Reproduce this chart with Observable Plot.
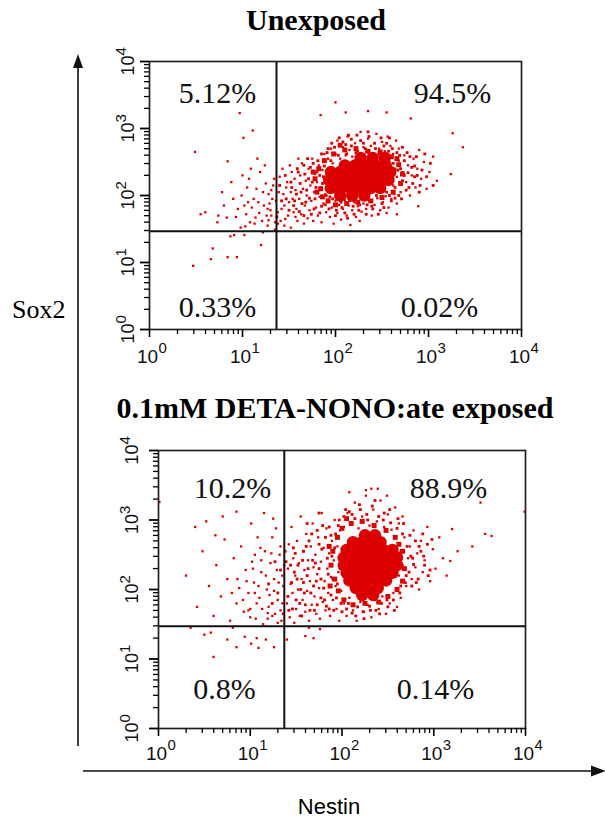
<!DOCTYPE html>
<html>
<head>
<meta charset="utf-8">
<script src="https://cdn.jsdelivr.net/npm/d3@7"></script>
<script src="https://cdn.jsdelivr.net/npm/@observablehq/plot@0.6"></script>
<style>
  html, body { margin: 0; padding: 0; background: #fff; }
  #wrap { position: relative; width: 605px; height: 828px; overflow: hidden; background: #fff; }
  .panel { position: absolute; left: 0; }
  #overlay { position: absolute; left: 0; top: 0; pointer-events: none; }
</style>
</head>
<body>
<div id="wrap">
  <div id="p1" class="panel" style="top:0px"></div>
  <div id="p2" class="panel" style="top:380px"></div>
  <svg id="overlay" width="605" height="828" xmlns="http://www.w3.org/2000/svg">
    <text x="316" y="30" text-anchor="middle" font-family="Liberation Serif, Times New Roman, serif" font-weight="bold" font-size="30">Unexposed</text>
    <text x="335" y="418" text-anchor="middle" font-family="Liberation Serif, Times New Roman, serif" font-weight="bold" font-size="30">0.1mM DETA-NONO:ate exposed</text>
    <text x="12" y="318" font-family="Liberation Serif, Times New Roman, serif" font-size="26">Sox2</text>
    <text x="329" y="814" text-anchor="middle" font-family="Liberation Sans, Arial, sans-serif" font-size="22">Nestin</text>
    <line x1="78" y1="746" x2="78" y2="64" stroke="#111" stroke-width="1.6"/>
    <polygon points="78,54 73,68 83,68" fill="#111"/>
    <line x1="83" y1="771" x2="594" y2="771" stroke="#111" stroke-width="1.6"/>
    <polygon points="606,771 591,765.5 591,776.5" fill="#111"/>
  </svg>
</div>
<script>
// ---------- axis ticks (fluorescence, log10 decades) ----------
const majorTicks = [1, 10, 100, 1000, 10000];
const tickBase = ["10", "10", "10", "10", "10"];
const tickExponents = ["0", "1", "2", "3", "4"];
const minorTicks = [2,3,4,5,6,7,8,9, 20,30,40,50,60,70,80,90,
  200,300,400,500,600,700,800,900, 2000,3000,4000,5000,6000,7000,8000,9000];

// ---------- quadrant gates (Nestin, Sox2) ----------
const unexposedGate = [23.2, 29.2];
const exposedGate = [23.5, 29.6];

// ---------- quadrant percentages [UL, UR, LL, LR] ----------
const unexposedPercents = ["5.12%", "94.5%", "0.33%", "0.02%"];
const exposedPercents = ["10.2%", "88.9%", "0.8%", "0.14%"];

// ---------- events, as [log10 Nestin, log10 Sox2] ----------
// solid centre of the population
const unexposedCore = [
  [2.27,2.56],[2.40,2.56],[2.53,2.56],
  [2.10,2.45],[2.21,2.45],[2.32,2.45],[2.43,2.45],[2.54,2.45],
  [1.95,2.35],[2.05,2.35],[2.16,2.35],[2.27,2.35],[2.38,2.35],[2.48,2.35],[2.59,2.35],
  [1.93,2.23],[2.03,2.23],[2.14,2.23],[2.25,2.23],[2.36,2.23],[2.46,2.23],[2.57,2.23],
  [1.95,2.11],[2.05,2.11],[2.16,2.11],[2.27,2.11],[2.38,2.11],[2.48,2.11],
  [2.05,2.00],[2.18,2.00],[2.31,2.00]
];
// crowded ring around the centre
const unexposedHalo = [
  [1.78,2.25],[1.82,2.40],[1.84,2.10],[1.88,2.52],[1.86,1.98],[1.92,1.92],[1.98,2.62],[2.00,1.86],
  [2.10,2.68],[2.12,1.88],[2.22,2.70],[2.24,1.90],[2.35,2.66],[2.38,1.92],[2.48,2.65],[2.50,1.97],
  [2.60,2.58],[2.62,2.05],[2.68,2.46],[2.70,2.18],[2.72,2.32],[1.80,2.05],[1.76,2.35],[2.05,2.75],[2.66,2.55]
];
// dense zone around the ring
const unexposedDense = [
  [1.58,2.02],[1.62,2.18],[1.64,1.88],[1.67,2.32],[1.69,2.08],[1.72,1.96],[1.73,2.42],[1.75,2.20],[1.77,1.80],[1.79,2.12],
  [1.81,2.52],[1.83,2.30],[1.85,1.84],[1.86,2.18],[1.88,2.44],[1.90,2.00],[1.91,2.64],[1.93,1.80],[1.95,2.52],[1.97,1.95],
  [1.99,2.72],[2.01,1.78],[2.03,2.60],[2.06,1.90],[2.08,2.80],[2.10,1.74],[2.12,2.62],[2.15,1.92],[2.17,2.74],[2.19,1.84],
  [2.22,2.64],[2.25,1.78],[2.27,2.82],[2.29,1.96],[2.32,2.70],[2.34,1.86],[2.37,2.60],[2.40,1.80],[2.42,2.78],[2.44,2.00],
  [2.47,2.62],[2.50,1.88],[2.52,2.74],[2.55,2.05],[2.57,2.66],[2.60,1.92],[2.62,2.48],[2.64,2.12],[2.66,2.64],[2.68,2.00],
  [2.70,2.40],[2.72,2.22],[2.74,2.52],[2.76,2.08],[2.78,2.34],[2.80,2.58],[2.83,2.18],[2.85,2.44],[2.88,2.30],[2.91,2.15],
  [1.70,2.55],[1.60,2.35],[1.66,1.70],[1.55,1.85],[1.52,2.20],[1.47,1.95],[2.35,2.95],[2.58,2.86],[2.14,2.90],[2.72,2.72],
  [1.42,1.92],[1.46,2.30],[1.50,1.78],[1.53,2.12],[1.56,1.92],[1.59,2.40],[1.61,1.76],[1.63,2.05],[1.66,2.45],[1.68,1.90],
  [1.71,2.25],[1.74,1.72],[1.76,2.48],[1.78,1.95],[1.80,2.35],[1.83,1.74],[1.85,2.62],[1.87,2.28],[1.89,1.86],[1.92,2.70],
  [1.94,1.98],[1.96,2.78],[2.00,1.70],[2.04,2.86],[2.07,1.82],[2.11,2.76],[2.13,1.66],[2.17,2.84],[2.20,1.72],[2.23,2.90],
  [2.26,1.86],[2.30,2.78],[2.33,1.72],[2.36,2.88],[2.39,1.84],[2.43,2.70],[2.46,1.72],[2.49,2.86],[2.52,1.82],[2.55,2.78],
  [2.58,2.00],[2.61,2.70],[2.64,1.96],[2.67,2.38],[2.69,2.60],[2.71,1.95],[2.74,2.30],[2.77,2.64],[2.79,2.12],[2.82,2.42],
  [2.85,2.28],[2.87,2.58],[2.90,2.05],[2.93,2.38],[2.96,2.62],[2.98,2.28],[3.02,2.48],[3.05,2.15],[1.37,1.68],[1.40,2.15]
];
// single events
const unexposedCells = [
  [0.47,0.95],[0.68,1.21],[0.66,1.05],[0.84,1.08],[0.94,1.08],[1.20,1.26],[0.87,1.39],[0.91,1.41],[1.02,1.41],[1.22,1.45],
  [0.55,1.72],[0.60,1.75],[0.74,1.70],[0.73,1.60],[0.83,1.67],[1.28,1.63],[1.03,1.54],
  [0.97,3.23],[1.11,2.97],[1.01,2.86],[0.49,2.65],[0.84,2.51],
  [0.93,1.68],[1.02,1.85],[1.08,1.60],[1.12,1.95],[1.18,1.74],[1.22,2.05],[1.27,1.55],[1.29,1.88],[1.05,2.12],[0.98,1.52],
  [0.95,1.80],[0.99,2.00],[1.04,1.72],[1.07,2.25],[1.10,1.82],[1.13,1.58],[1.15,2.10],[1.17,1.90],[1.19,2.35],[1.21,1.62],
  [1.23,1.85],[1.25,2.18],[1.26,1.70],[1.28,2.02],[1.30,1.78],[1.32,1.95],[1.34,2.25],[1.35,1.60],[1.24,2.45],[1.16,2.55],
  [1.09,2.40],[1.00,2.30],[0.90,1.95],[0.88,2.20],[0.80,1.85],[0.78,2.05],[1.14,1.67],[1.31,2.08],[1.27,1.80],[1.06,1.90],
  [1.31,1.70],[1.33,2.15],[1.36,1.92],[1.38,1.58],[1.40,2.28],[1.42,1.80],[1.44,2.02],[1.46,1.65],[1.48,2.20],[1.50,1.90],
  [1.52,1.52],[1.53,2.35],[1.55,1.75],[1.57,2.08],[1.59,1.62],[1.35,1.49],
  [1.38,1.75],[1.39,2.05],[1.41,1.62],[1.43,2.40],[1.45,1.85],[1.47,2.12],[1.49,1.70],[1.51,2.45],[1.54,1.95],[1.56,2.25],
  [1.58,1.80],[1.60,2.55],[1.45,1.55],[1.52,2.05],[1.57,1.68],
  [1.61,1.95],[1.62,2.30],[1.63,1.72],[1.64,2.48],[1.65,2.10],[1.66,1.58],[1.67,1.85],[1.68,2.22],[1.69,2.00],[1.70,1.66],
  [1.71,2.40],[1.72,1.78],[1.73,2.15],[1.74,1.92],[1.75,2.55],[1.76,1.62],[1.77,2.05],[1.78,2.32],[1.79,1.82],[1.80,2.20],
  [1.81,1.70],[1.82,2.45],[1.83,1.98],[1.84,2.12],[1.85,1.60],[1.86,2.38],[1.87,1.88],[1.88,2.62],[1.89,2.02],[1.90,1.75],
  [1.92,1.90],[1.94,1.68],[1.96,1.82],[1.98,1.58],[2.00,1.92],[2.02,1.74],[2.04,1.86],[2.06,1.64],[2.08,1.80],[2.10,1.93],
  [2.12,1.70],[2.14,1.85],[2.16,1.56],[2.18,1.78],[2.20,1.90],[2.22,1.68],[2.24,1.84],[2.26,1.62],[2.28,1.76],[2.30,1.88],
  [1.92,2.55],[1.95,2.70],[1.97,2.48],[2.00,2.62],[2.02,2.82],[2.05,2.55],[2.08,2.72],[2.11,2.60],[2.13,2.88],[2.15,2.68],
  [2.18,2.58],[2.21,2.78],[2.24,2.66],[2.27,2.95],[2.30,2.72],
  [2.33,2.65],[2.35,2.85],[2.38,2.74],[2.41,2.63],[2.44,2.92],[2.47,2.70],[2.50,2.80],[2.53,2.66],[2.56,2.88],[2.59,2.74],
  [2.62,2.62],[2.65,2.82],[2.68,2.70],
  [2.33,1.80],[2.36,1.92],[2.39,1.70],[2.42,1.86],[2.45,1.96],[2.48,1.78],[2.51,1.90],[2.54,1.99],[2.57,1.82],[2.60,1.95],
  [2.63,2.02],[2.66,1.88],
  [2.62,2.15],[2.64,2.40],[2.66,2.28],[2.68,2.52],[2.70,2.05],[2.72,2.35],[2.74,2.60],[2.76,2.20],[2.78,2.45],[2.80,2.00],
  [2.82,2.30],[2.84,2.55],[2.86,2.12],[2.88,2.40],[2.90,2.68],[2.92,2.25],[2.95,2.50],[2.98,2.10],[3.01,2.35],[3.05,2.58],[3.09,2.22],
  [2.00,3.39],[1.84,3.20],[2.11,3.24],[2.35,3.26],[2.55,3.24],[2.81,3.15],[3.26,2.93],[3.37,2.72],[3.24,2.32],[2.89,1.84],
  [2.66,1.72],[2.55,1.74]
];

const exposedCore = [
  [2.25,2.78],[2.36,2.78],
  [2.12,2.68],[2.22,2.68],[2.32,2.68],[2.42,2.68],
  [2.05,2.57],[2.15,2.57],[2.25,2.57],[2.35,2.57],[2.45,2.57],[2.55,2.57],
  [2.02,2.46],[2.12,2.46],[2.22,2.46],[2.32,2.46],[2.42,2.46],[2.52,2.46],[2.60,2.46],
  [2.02,2.35],[2.12,2.35],[2.22,2.35],[2.32,2.35],[2.42,2.35],[2.52,2.35],[2.60,2.35],
  [2.05,2.24],[2.15,2.24],[2.25,2.24],[2.35,2.24],[2.45,2.24],[2.55,2.24],
  [2.08,2.13],[2.18,2.13],[2.28,2.13],[2.38,2.13],[2.48,2.13],
  [2.15,2.02],[2.27,2.02],[2.39,2.02],
  [2.22,1.92],[2.34,1.92]
];
const exposedHalo = [
  [1.88,2.35],[1.90,2.55],[1.92,2.15],[1.95,2.75],[1.96,1.98],[2.00,2.88],[2.02,1.85],[2.10,2.95],
  [2.12,1.78],[2.22,2.98],[2.25,1.80],[2.35,2.92],[2.40,1.82],[2.48,2.85],[2.50,1.90],[2.58,2.75],
  [2.60,2.00],[2.66,2.55],[2.68,2.30],[2.66,2.12],[1.86,2.62],[1.87,2.05],[2.05,3.02],[2.62,2.65],[1.98,2.45]
];
const exposedDense = [
  [1.45,2.10],[1.50,1.85],[1.52,2.35],[1.55,2.00],[1.58,2.55],[1.60,1.78],[1.62,2.20],[1.64,2.70],[1.66,1.95],[1.68,2.42],
  [1.70,1.70],[1.72,2.12],[1.73,2.85],[1.75,2.30],[1.77,1.88],[1.78,2.58],[1.80,2.02],[1.82,2.75],[1.83,1.76],[1.85,2.22],
  [1.86,2.90],[1.88,1.92],[1.89,2.48],[1.91,1.70],[1.93,2.80],[1.95,2.08],[1.97,3.00],[1.99,1.80],[2.02,3.05],[2.05,1.72],
  [2.08,3.12],[2.11,1.66],[2.14,3.02],[2.17,1.75],[2.20,3.15],[2.23,1.68],[2.27,3.08],[2.30,1.76],[2.33,3.20],[2.37,1.70],
  [2.40,3.05],[2.43,1.80],[2.46,3.10],[2.50,1.75],[2.53,2.96],[2.56,1.85],[2.60,2.88],[2.63,1.95],[2.66,2.80],[2.69,2.10],
  [2.71,2.62],[2.73,2.25],[2.75,2.48],[2.78,2.36],[2.80,2.70],[2.83,2.15],[2.86,2.55],[2.90,2.35],[2.93,2.65],[2.96,2.28],
  [1.47,2.60],[1.42,1.70],[1.56,1.62],[1.39,2.40],[1.62,2.95],[1.75,3.10],[2.76,2.05],[2.88,2.80],[1.48,2.25],[1.58,2.10],
  [1.20,2.08],[1.24,1.80],[1.27,2.40],[1.30,1.95],[1.33,2.28],[1.36,1.65],[1.38,2.55],[1.41,1.90],[1.44,2.35],[1.46,1.72],
  [1.49,2.52],[1.51,2.15],[1.54,1.80],[1.57,2.42],[1.59,1.95],[1.61,2.62],[1.63,2.30],[1.65,1.70],[1.67,2.80],[1.69,2.05],
  [1.71,2.38],[1.73,1.78],[1.75,2.65],[1.77,2.15],[1.79,2.92],[1.81,1.85],[1.84,2.45],[1.86,1.72],[1.88,2.78],[1.90,2.15],
  [1.92,2.60],[1.94,1.88],[1.96,2.92],[1.98,2.30],[2.00,1.68],[2.04,3.15],[2.07,1.80],[2.11,3.08],[2.15,1.62],[2.19,3.22],
  [2.24,1.58],[2.28,3.00],[2.31,1.70],[2.36,3.28],[2.41,1.65],[2.45,3.00],[2.49,1.85],[2.52,3.15],[2.57,1.70],[2.61,3.02],
  [2.64,2.05],[2.67,2.95],[2.70,2.20],[2.74,2.78],[2.77,2.45],[2.81,2.10],[2.84,2.62],[2.89,2.48],[2.94,2.20],[2.98,2.72]
];
const exposedCells = [
  [0.30,2.20],[0.42,1.75],[0.48,2.55],[0.55,2.05],[0.60,1.62],[0.63,2.35],[0.68,1.90],[0.72,2.72],[0.75,2.15],[0.78,1.55],
  [0.82,2.45],[0.85,1.80],[0.88,2.02],[0.90,2.62],[0.93,1.68],[0.95,2.28],[0.98,1.95],[0.40,2.90],[0.52,2.98],[0.70,3.05],
  [0.85,3.12],[0.62,2.78],[0.35,1.45],[0.50,1.35],
  [0.60,1.03],[0.57,1.38],[0.75,1.28],[0.85,1.17],[0.94,1.32],[1.01,1.22],[1.07,1.30],[1.09,1.16],[1.26,1.17],[1.17,1.28],
  [0.81,1.45],[1.60,1.33],[1.69,1.30],[1.40,1.28],[1.76,1.43],[1.64,1.45],
  [1.00,1.72],[1.02,2.40],[1.04,2.10],[1.06,1.58],[1.08,2.75],[1.10,1.88],[1.12,2.25],[1.14,1.50],[1.16,2.55],[1.18,2.00],
  [1.20,1.75],[1.22,2.38],[1.24,1.62],[1.26,2.15],[1.28,2.88],[1.30,1.85],[1.32,2.50],[1.34,1.55],[1.36,2.05],[1.01,2.95],
  [1.15,3.10],[1.25,3.02],[1.05,1.95],[1.19,1.66],[1.29,2.28],[1.33,1.70],[1.11,2.60],
  [0.92,1.85],[0.96,2.12],[1.00,1.60],[1.03,2.30],[1.07,1.80],[1.09,2.05],[1.13,1.72],[1.17,2.20],[1.21,1.92],[1.23,2.52],
  [1.27,1.65],[1.31,2.10],[1.35,1.80],[1.37,2.35],[1.12,2.42],[1.26,1.98],[1.33,2.62],[1.05,2.50],[0.98,1.70],[1.19,1.58],
  [1.30,1.52],[0.86,2.15],[0.80,1.95],[1.35,2.20],[1.24,2.75],
  [1.40,1.80],[1.41,2.30],[1.42,2.65],[1.43,1.60],[1.44,2.08],[1.45,2.90],[1.46,1.95],[1.47,2.45],[1.48,1.52],[1.49,2.20],
  [1.50,1.72],[1.51,2.70],[1.52,2.00],[1.53,2.38],[1.54,1.62],[1.55,3.05],[1.56,2.15],[1.57,1.85],[1.58,2.55],[1.59,2.28],
  [1.60,1.68],[1.61,2.80],[1.62,1.98],[1.63,2.42],[1.64,1.55],[1.65,2.12],[1.66,2.62],[1.67,1.78],[1.68,2.95],[1.69,2.32],
  [1.70,1.90],[1.71,2.50],[1.72,1.65],[1.73,2.22],[1.74,2.75],[1.75,2.02],[1.76,1.58],[1.77,2.40],[1.78,3.10],[1.79,1.82],
  [1.80,2.60],[1.81,2.12],[1.82,1.70],[1.83,2.88],[1.84,2.30],[1.85,1.95],[1.86,2.52],[1.87,1.62],[1.88,2.18],[1.89,2.70],
  [1.90,1.85],[1.91,2.42],[1.92,3.00],[1.93,2.05],[1.94,1.72],[1.95,2.62],[1.96,2.25],[1.97,1.55],[1.98,2.85],[1.99,1.98],
  [2.02,2.90],[2.06,3.10],[2.10,2.95],[2.14,3.25],[2.18,2.88],[2.22,3.05],[2.26,3.35],[2.30,2.92],[2.34,3.15],[2.38,2.98],
  [2.42,3.28],[2.46,2.90],[2.50,3.08],[2.54,2.86],[2.58,3.18],[2.62,2.95],[2.66,3.05],[2.08,3.40],[2.32,3.45],
  [2.02,1.80],[2.05,1.62],[2.08,1.88],[2.12,1.70],[2.16,1.55],[2.20,1.82],[2.24,1.68],[2.28,1.78],[2.32,1.60],[2.36,1.85],
  [2.40,1.72],[2.44,1.90],[2.48,1.65],[2.52,1.80],[2.56,1.95],[2.60,1.75],[2.64,1.88],
  [2.62,2.20],[2.64,2.55],[2.66,2.35],[2.68,2.75],[2.70,2.05],[2.72,2.45],[2.74,2.62],[2.76,2.15],[2.78,2.85],[2.80,2.32],
  [2.82,2.52],[2.84,2.00],[2.86,2.70],[2.88,2.25],[2.90,2.42],[2.93,2.90],[2.96,2.12],[2.99,2.58],[3.02,2.30],[3.06,2.75],
  [3.10,2.45],[3.14,2.20],
  [3.99,3.12],[3.51,3.25],[3.56,2.80],[3.63,2.77],[3.42,2.62],[3.20,2.87],[3.26,2.55],[3.18,2.41],[0.01,3.26],[2.26,3.43],
  [2.39,3.45],[2.49,3.35]
];

// ---------- drawing ----------
const RED = "#dd0000";
const SERIF = "Liberation Serif, Times New Roman, serif";
const SANS = "Liberation Sans, Arial, sans-serif";
const toEvents = pts => pts.map(([lx, ly]) => ({nestin: 10 ** lx, sox2: 10 ** ly}));

function panel(cfg) {
  const [gx, gy] = cfg.gate;
  const anchors = ["top-left", "top-right", "bottom-left", "bottom-right"];
  const pctMarks = cfg.percents.map((p, i) => Plot.text([p], {
    frameAnchor: anchors[i], text: d => d, textAnchor: "middle", lineAnchor: "bottom",
    dx: cfg.pctOffsets[i][0], dy: cfg.pctOffsets[i][1],
    fontSize: 30, fontFamily: SERIF, fill: "#111"
  }));
  const ev = {x: "nestin", y: "sox2", fill: RED};
  return Plot.plot({
    width: cfg.width, height: cfg.height,
    marginTop: cfg.mt, marginBottom: cfg.mb, marginLeft: cfg.ml, marginRight: cfg.mr,
    style: {background: "transparent", overflow: "visible"},
    x: {type: "log", domain: [1, 10000], axis: null},
    y: {type: "log", domain: [1, 10000], axis: null},
    marks: [
      Plot.dot(toEvents(cfg.cells), {...ev, symbol: "square", r: 1.3}),
      Plot.dot(toEvents(cfg.dense), {...ev, symbol: "square", r: 1.6}),
      Plot.dot(toEvents(cfg.halo), {...ev, symbol: "square", r: 2.8}),
      Plot.dot(toEvents(cfg.core), {...ev, r: 6.2}),
      Plot.ruleX([gx], {stroke: "#111", strokeWidth: 2}),
      Plot.ruleY([gy], {stroke: "#111", strokeWidth: 2}),
      Plot.frame({stroke: "#222", strokeWidth: 1.7}),
      Plot.axisX(majorTicks, {anchor: "bottom", tickSize: 8, tickFormat: () => "", label: null, strokeWidth: 1.6}),
      Plot.axisX(minorTicks, {anchor: "bottom", tickSize: 5, tickFormat: () => "", label: null, strokeWidth: 1.3}),
      Plot.axisY(majorTicks, {anchor: "left", tickSize: 9, tickFormat: () => "", label: null, strokeWidth: 1.8}),
      Plot.axisY(minorTicks, {anchor: "left", tickSize: 5, tickFormat: () => "", label: null, strokeWidth: 1.3}),
      Plot.text(majorTicks, {x: d => d, frameAnchor: "bottom", text: (d, i) => tickBase[i],
        textAnchor: "middle", lineAnchor: "bottom", dx: -2, dy: cfg.xBaseDy, fontSize: 19, fontFamily: SANS, fill: "#111"}),
      Plot.text(majorTicks, {x: d => d, frameAnchor: "bottom", text: (d, i) => tickExponents[i],
        textAnchor: "start", lineAnchor: "bottom", dx: 9, dy: cfg.xBaseDy - 10, fontSize: 15, fontFamily: SANS, fill: "#111"}),
      Plot.text(majorTicks, {y: d => d, frameAnchor: "left", text: (d, i) => tickBase[i], rotate: -90,
        textAnchor: "middle", lineAnchor: "bottom", dx: cfg.yBaseDx, dy: 4, fontSize: 18, fontFamily: SANS, fill: "#111"}),
      Plot.text(majorTicks, {y: d => d, frameAnchor: "left", text: (d, i) => tickExponents[i], rotate: -90,
        textAnchor: "start", lineAnchor: "bottom", dx: cfg.yBaseDx - 8, dy: -6, fontSize: 15, fontFamily: SANS, fill: "#111"}),
      ...pctMarks
    ]
  });
}

document.getElementById("p1").append(panel({
  width: 560, height: 370, mt: 61, mb: 41, ml: 149, mr: 39,
  cells: unexposedCells, dense: unexposedDense, halo: unexposedHalo, core: unexposedCore,
  gate: unexposedGate, percents: unexposedPercents,
  pctOffsets: [[68, 41], [-69, 41], [68, -13], [-82, -13]],
  xBaseDy: 33, yBaseDx: -16
}));
document.getElementById("p2").append(panel({
  width: 565, height: 390, mt: 70, mb: 42, ml: 158, mr: 40,
  cells: exposedCells, dense: exposedDense, halo: exposedHalo, core: exposedCore,
  gate: exposedGate, percents: exposedPercents,
  pctOffsets: [[74, 47], [-77, 47], [66, -30], [-90, -30]],
  xBaseDy: 31, yBaseDx: -21
}));
</script>
</body>
</html>
